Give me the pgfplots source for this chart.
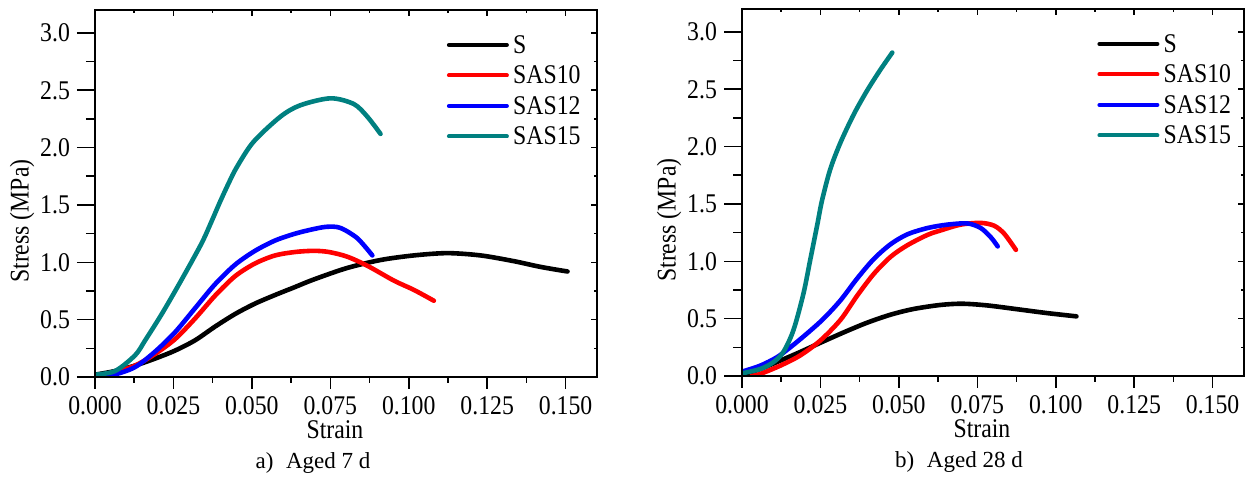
\documentclass[border=0pt]{standalone}
\usepackage{fontspec}
\setmainfont{Liberation Serif}[FakeStretch=0.88]
\newfontfamily\capfont{Liberation Serif}
\usepackage{pgfplots}
\pgfplotsset{compat=1.18}
\definecolor{sasteal}{RGB}{0,128,128}
\newcommand\lblfont{\fontsize{13.5}{16}\selectfont}

\pgfplotsset{
  panel/.style={
    scale only axis, width=251pt, height=183.5pt, anchor=south west,
    xmin=0, xmax=0.16, ymin=0, ymax=3.2,
    xtick={0,0.025,0.05,0.075,0.1,0.125,0.15},
    ytick={0,0.5,1,1.5,2,2.5,3},
    minor x tick num=1, minor y tick num=1,
    scaled x ticks=false, scaled y ticks=false,
    axis line style={line width=0.8pt},
    every tick/.append style={black, line width=0.8pt},
  },
  mainpanel/.style={
    panel,
    tick pos=left, tick align=outside,
    major tick length=6pt, minor tick length=3pt,
    xticklabel style={font=\lblfont, /pgf/number format/.cd, fixed, fixed zerofill, precision=3, assume math mode=true},
    yticklabel style={font=\lblfont, xshift=-3pt, /pgf/number format/.cd, fixed, fixed zerofill, precision=1, assume math mode=true},
    xlabel={Strain}, ylabel={Stress (MPa)},
    every axis x label/.style={at={(axis description cs:0.478,-0.143)}, anchor=center, font=\lblfont},
    every axis y label/.style={at={(axis description cs:-0.145,0.425)}, anchor=center, rotate=90, font=\lblfont},
    legend cell align=left,
    legend style={draw=none, fill=none, inner sep=0pt, outer sep=0pt, row sep=3.75pt,
      nodes={inner sep=0pt, text height=10pt, text depth=1.5pt, font=\lblfont}},
    legend image code/.code={\draw[#1, line width=2pt] (0pt,0pt) -- (29pt,0pt); \path (31pt,0pt);},
    every axis plot/.append style={line width=2.3pt, line join=round, line cap=round, no marks, smooth, tension=0.5},
  },
  ylong/.style={
    panel, tick pos=left, tick align=outside, xtick=\empty,
    major tick length=9pt, minor tick length=4.5pt, yticklabels={},
  },
  inner/.style={
    panel, tick pos=right, tick align=inside,
    major tick length=3pt, minor tick length=1.5pt,
    xticklabels={}, yticklabels={},
  },
}

\begin{document}
\begin{tikzpicture}
\path[use as bounding box] (0,0) rectangle (625pt,238.5pt);

% a) aged 7 d
\begin{axis}[mainpanel, at={(47.5pt,50pt)},
  legend style={at={(axis description cs:0.701,0.936)}, anchor=north west}]
\addplot[black] coordinates {(0,0.02) (0.0064,0.052) (0.0128,0.10) (0.0191,0.16) (0.0255,0.23) (0.0319,0.32) (0.0383,0.44) (0.0447,0.55) (0.051,0.64) (0.0574,0.715) (0.0638,0.785) (0.0697,0.85) (0.0803,0.95) (0.091,1.02) (0.1016,1.06) (0.1123,1.08) (0.1229,1.06) (0.1335,1.01) (0.142,0.96) (0.1506,0.92)};
\addplot[red] coordinates {(0,0.006) (0.0064,0.044) (0.0128,0.10) (0.0191,0.20) (0.0255,0.33) (0.0319,0.51) (0.0383,0.71) (0.0447,0.88) (0.051,0.99) (0.0574,1.06) (0.0638,1.09) (0.0697,1.10) (0.0745,1.09) (0.0803,1.05) (0.0868,0.97) (0.0953,0.84) (0.1016,0.76) (0.108,0.665)};
\addplot[blue] coordinates {(0,0) (0.0064,0.023) (0.0128,0.087) (0.0191,0.22) (0.0255,0.39) (0.0319,0.60) (0.0383,0.81) (0.0447,0.98) (0.051,1.10) (0.0574,1.19) (0.0638,1.25) (0.0697,1.29) (0.074,1.31) (0.0782,1.30) (0.0836,1.21) (0.0884,1.06)};
\addplot[sasteal] coordinates {(0,0.02) (0.0064,0.052) (0.0128,0.19) (0.016,0.32) (0.0213,0.55) (0.0266,0.80) (0.0319,1.06) (0.0346,1.20) (0.0372,1.36) (0.0399,1.53) (0.0426,1.69) (0.0452,1.83) (0.0505,2.05) (0.0591,2.27) (0.0655,2.37) (0.0751,2.43) (0.0825,2.38) (0.0868,2.27) (0.091,2.12)};
\legend{S,SAS10,SAS12,SAS15}
\end{axis}
\begin{axis}[ylong, at={(47.5pt,50pt)}]\end{axis}
\begin{axis}[inner, at={(47.5pt,50pt)}]\end{axis}

% b) aged 28 d
\begin{axis}[mainpanel, at={(371pt,50.5pt)},
  legend style={at={(axis description cs:0.708,0.936)}, anchor=north west}]
\addplot[black] coordinates {(0,0.01) (0.0058,0.061) (0.0122,0.134) (0.0186,0.21) (0.025,0.29) (0.0324,0.38) (0.0399,0.465) (0.0474,0.535) (0.0548,0.585) (0.0634,0.62) (0.0703,0.63) (0.0783,0.615) (0.0889,0.578) (0.0974,0.548) (0.1066,0.52)};
\addplot[red] coordinates {(0.003,0) (0.0058,0.018) (0.0122,0.09) (0.0186,0.18) (0.025,0.31) (0.0314,0.49) (0.0367,0.70) (0.042,0.89) (0.0474,1.04) (0.0527,1.14) (0.0591,1.23) (0.0634,1.27) (0.0697,1.32) (0.0761,1.335) (0.0804,1.31) (0.0836,1.24) (0.0873,1.10)};
\addplot[blue] coordinates {(0,0.038) (0.0058,0.09) (0.0111,0.163) (0.0154,0.25) (0.0207,0.37) (0.026,0.50) (0.0314,0.66) (0.0367,0.85) (0.042,1.02) (0.0474,1.15) (0.0527,1.235) (0.0591,1.29) (0.0655,1.32) (0.0719,1.33) (0.0761,1.29) (0.0793,1.21) (0.0815,1.13)};
\addplot[sasteal] coordinates {(0,0.023) (0.0058,0.061) (0.01,0.12) (0.0132,0.21) (0.0164,0.40) (0.0196,0.72) (0.0218,1.02) (0.024,1.32) (0.0255,1.53) (0.0281,1.80) (0.0313,2.03) (0.0356,2.28) (0.0399,2.49) (0.0441,2.67) (0.0479,2.82)};
\legend{S,SAS10,SAS12,SAS15}
\end{axis}
\begin{axis}[ylong, at={(371pt,50.5pt)}]\end{axis}
\begin{axis}[inner, at={(371pt,50.5pt)}]\end{axis}

\node[font=\capfont\fontsize{11.5}{14}\selectfont] at (156.5pt,7pt) {a)\hspace{0.55em}Aged 7 d};
\node[font=\capfont\fontsize{11.5}{14}\selectfont] at (479.5pt,7.6pt) {b)\hspace{0.55em}Aged 28 d};
\end{tikzpicture}
\end{document}
